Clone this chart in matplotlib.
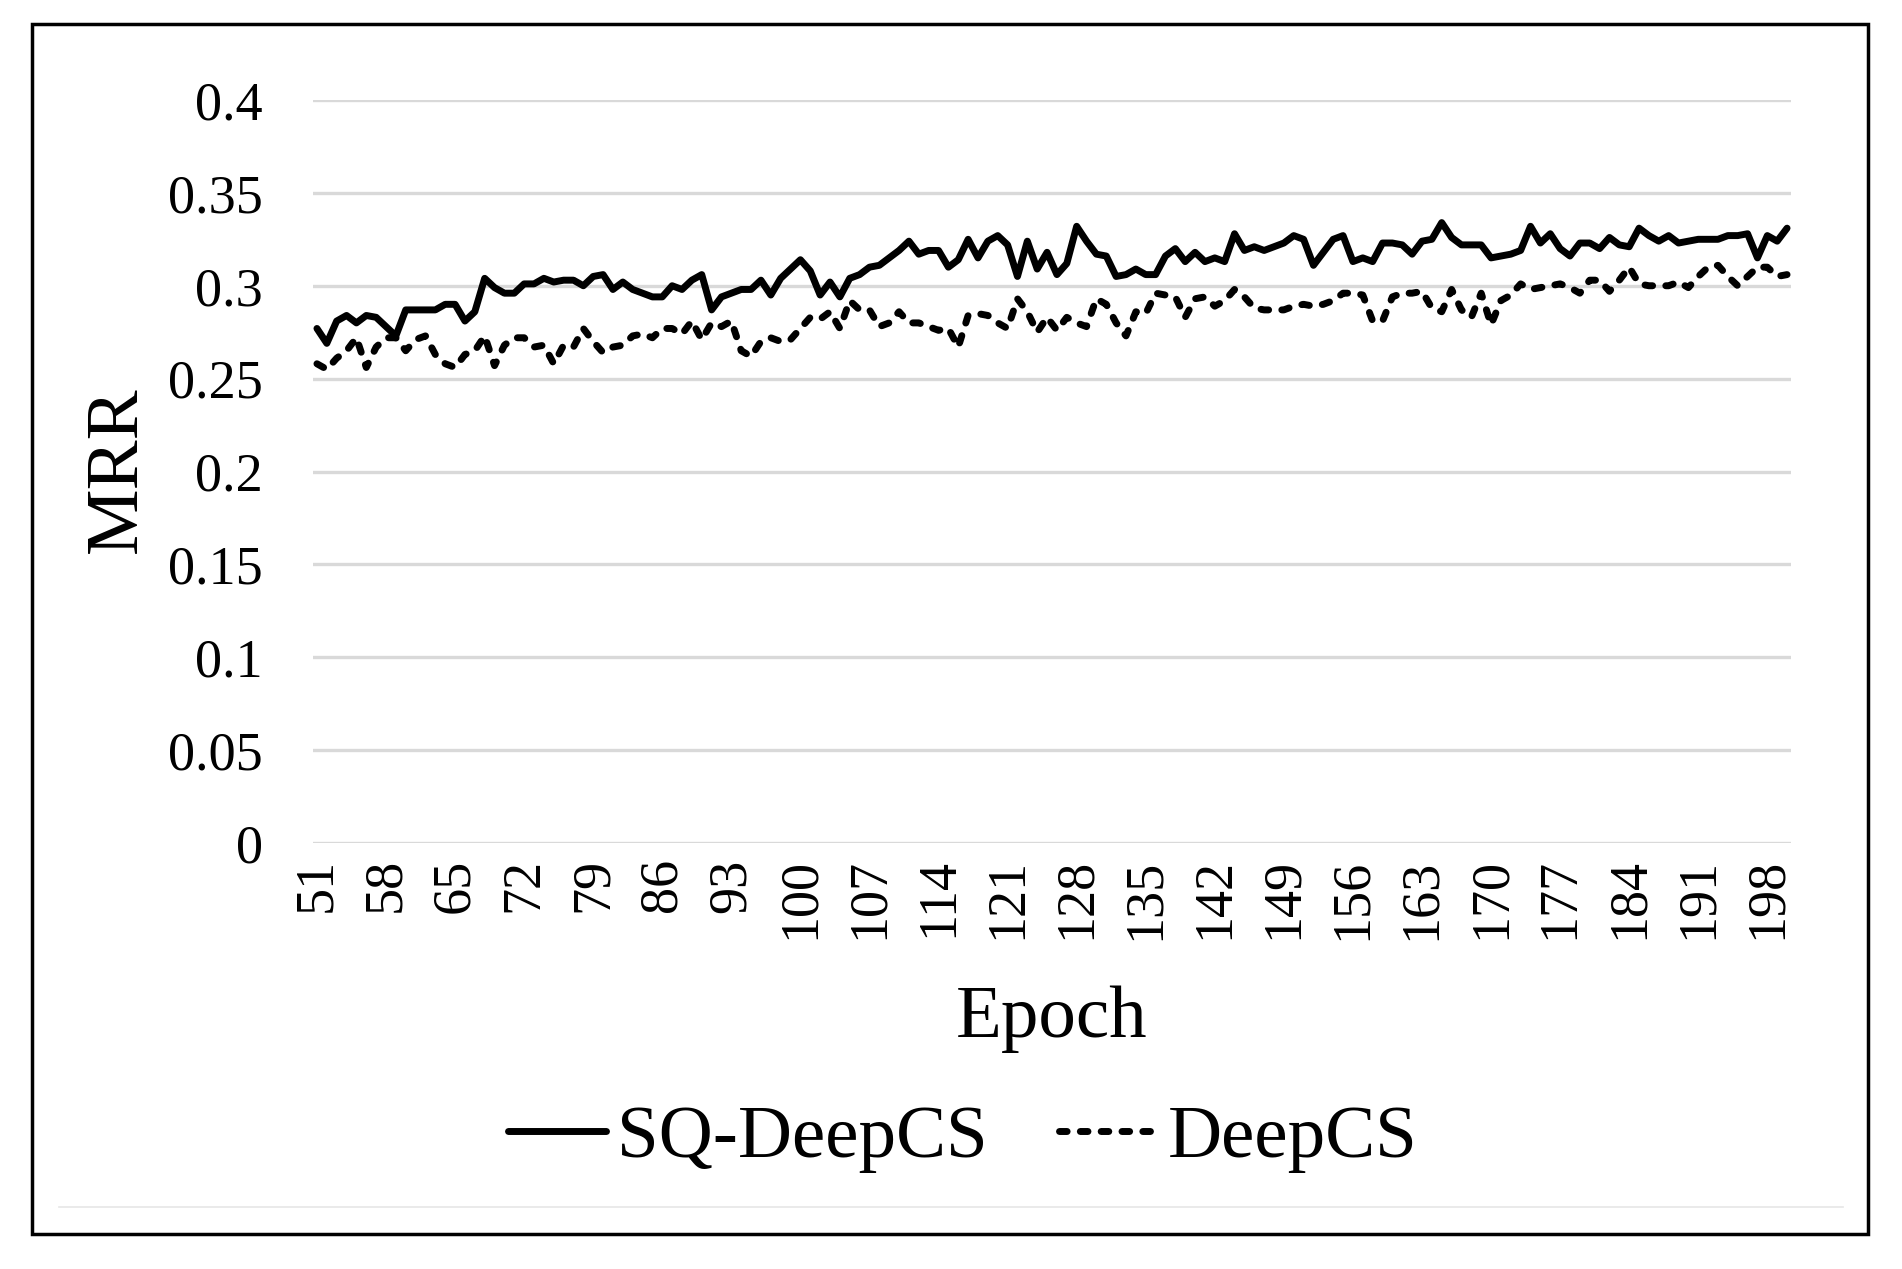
import numpy as np
import matplotlib
matplotlib.use('Agg')
import matplotlib.pyplot as plt
from matplotlib.patches import Rectangle
from matplotlib.lines import Line2D

plt.rcParams['font.family'] = ['Liberation Serif', 'DejaVu Serif']

epochs = list(range(51, 201))

# SQ-DeepCS (solid)
sq_deepcs = [
    0.277, 0.269, 0.281, 0.284, 0.280, 0.284, 0.283, 0.278, 0.273, 0.287,
    0.287, 0.287, 0.287, 0.290, 0.290, 0.281, 0.286, 0.304, 0.299, 0.296,
    0.296, 0.301, 0.301, 0.304, 0.302, 0.303, 0.303, 0.300, 0.305, 0.306,
    0.298, 0.302, 0.298, 0.296, 0.294, 0.294, 0.300, 0.298, 0.303, 0.306,
    0.287, 0.294, 0.296, 0.298, 0.298, 0.303, 0.295, 0.304, 0.309, 0.314,
    0.308, 0.295, 0.302, 0.294, 0.304, 0.306, 0.310, 0.311, 0.315, 0.319,
    0.324, 0.317, 0.319, 0.319, 0.310, 0.314, 0.325, 0.315, 0.324, 0.327,
    0.322, 0.305, 0.324, 0.309, 0.318, 0.306, 0.312, 0.332, 0.324, 0.317,
    0.316, 0.305, 0.306, 0.309, 0.306, 0.306, 0.316, 0.320, 0.313, 0.318,
    0.313, 0.315, 0.313, 0.328, 0.319, 0.321, 0.319, 0.321, 0.323, 0.327,
    0.325, 0.311, 0.318, 0.325, 0.327, 0.313, 0.315, 0.313, 0.323, 0.323,
    0.322, 0.317, 0.324, 0.325, 0.334, 0.326, 0.322, 0.322, 0.322, 0.315,
    0.316, 0.317, 0.319, 0.332, 0.323, 0.328, 0.320, 0.316, 0.323, 0.323,
    0.320, 0.326, 0.322, 0.321, 0.331, 0.327, 0.324, 0.327, 0.323, 0.324,
    0.325, 0.325, 0.325, 0.327, 0.327, 0.328, 0.315, 0.327, 0.324, 0.331,
]

# DeepCS (dashed)
deepcs = [
    0.258, 0.255, 0.261, 0.265, 0.272, 0.256, 0.267, 0.272, 0.272, 0.265,
    0.271, 0.273, 0.263, 0.258, 0.256, 0.263, 0.265, 0.273, 0.257, 0.268,
    0.272, 0.272, 0.267, 0.268, 0.258, 0.268, 0.267, 0.277, 0.270, 0.264,
    0.267, 0.268, 0.273, 0.274, 0.272, 0.277, 0.277, 0.274, 0.281, 0.271,
    0.280, 0.278, 0.281, 0.265, 0.262, 0.270, 0.272, 0.270, 0.271, 0.277,
    0.283, 0.282, 0.286, 0.277, 0.292, 0.287, 0.287, 0.278, 0.280, 0.286,
    0.280, 0.280, 0.278, 0.276, 0.277, 0.267, 0.284, 0.285, 0.284, 0.280,
    0.277, 0.293, 0.286, 0.275, 0.283, 0.276, 0.283, 0.280, 0.278, 0.293,
    0.290, 0.280, 0.273, 0.286, 0.285, 0.296, 0.295, 0.294, 0.283, 0.293,
    0.294, 0.289, 0.292, 0.298, 0.294, 0.288, 0.287, 0.287, 0.287, 0.289,
    0.290, 0.289, 0.290, 0.292, 0.296, 0.296, 0.295, 0.281, 0.281, 0.294,
    0.296, 0.296, 0.297, 0.288, 0.286, 0.298, 0.287, 0.283, 0.296, 0.279,
    0.292, 0.295, 0.301, 0.298, 0.299, 0.300, 0.301, 0.299, 0.296, 0.303,
    0.303, 0.297, 0.303, 0.310, 0.301, 0.300, 0.300, 0.300, 0.302, 0.299,
    0.305, 0.310, 0.311, 0.305, 0.300, 0.305, 0.310, 0.310, 0.305, 0.306,
]

x_ticks = list(range(51, 199, 7))
y_ticks = [0, 0.05, 0.1, 0.15, 0.2, 0.25, 0.3, 0.35, 0.4]
y_tick_labels = ['0', '0.05', '0.1', '0.15', '0.2', '0.25', '0.3', '0.35', '0.4']

fig = plt.figure(figsize=(19.02, 12.69), dpi=100)
ax = fig.add_axes([313 / 1902, 1 - 843 / 1269, (1791 - 313) / 1902, (843 - 100) / 1269])

# gridlines
for v in y_ticks:
    ax.axhline(v, color='#d9d9d9', lw=2.4, zorder=0)

ax.plot(epochs, sq_deepcs, color='black', lw=5.0, solid_joinstyle='round',
        solid_capstyle='round', label='SQ-DeepCS', zorder=3)
ax.plot(epochs, deepcs, color='black', lw=5.0, ls=(0, (1.1, 1.9)),
        dash_capstyle='round', dash_joinstyle='round', label='DeepCS', zorder=3)

ax.set_xlim(50.6, 200.4)
ax.set_ylim(0, 0.4)
ax.set_xticks(x_ticks)
ax.set_xticklabels([str(t) for t in x_ticks], rotation=90, fontsize=39)
ax.set_yticks(y_ticks)
ax.set_yticklabels(y_tick_labels, fontsize=39)
ax.tick_params(axis='x', length=0, pad=11)
ax.tick_params(axis='y', length=0, pad=36)
for s in ax.spines.values():
    s.set_visible(False)

fig.text(118 / 1902, 1 - 470 / 1269, 'MRR', rotation=90, ha='center', va='center', fontsize=54)
fig.text(1052 / 1902, 1 - 1019 / 1269, 'Epoch', ha='center', va='center', fontsize=54)

ax.legend(loc='center', bbox_to_anchor=(963 / 1902, 1 - 1139 / 1269),
          bbox_transform=fig.transFigure, ncol=2, frameon=False, fontsize=54,
          handlelength=1.3, handletextpad=0.15, columnspacing=0.95)

# outer frame and thin grey line of the chart area
fig.patches.append(Rectangle((32 / 1902, 1 - 1234 / 1269), (1868 - 32) / 1902,
                             (1234 - 24) / 1269, transform=fig.transFigure,
                             fill=False, edgecolor='black', lw=2.5))
fig.lines.append(Line2D([59 / 1902, 1843 / 1902], [1 - 1207 / 1269, 1 - 1207 / 1269],
                        transform=fig.transFigure, color='#e6e6e6', lw=1.2))

fig.savefig('out.png', dpi=100)
